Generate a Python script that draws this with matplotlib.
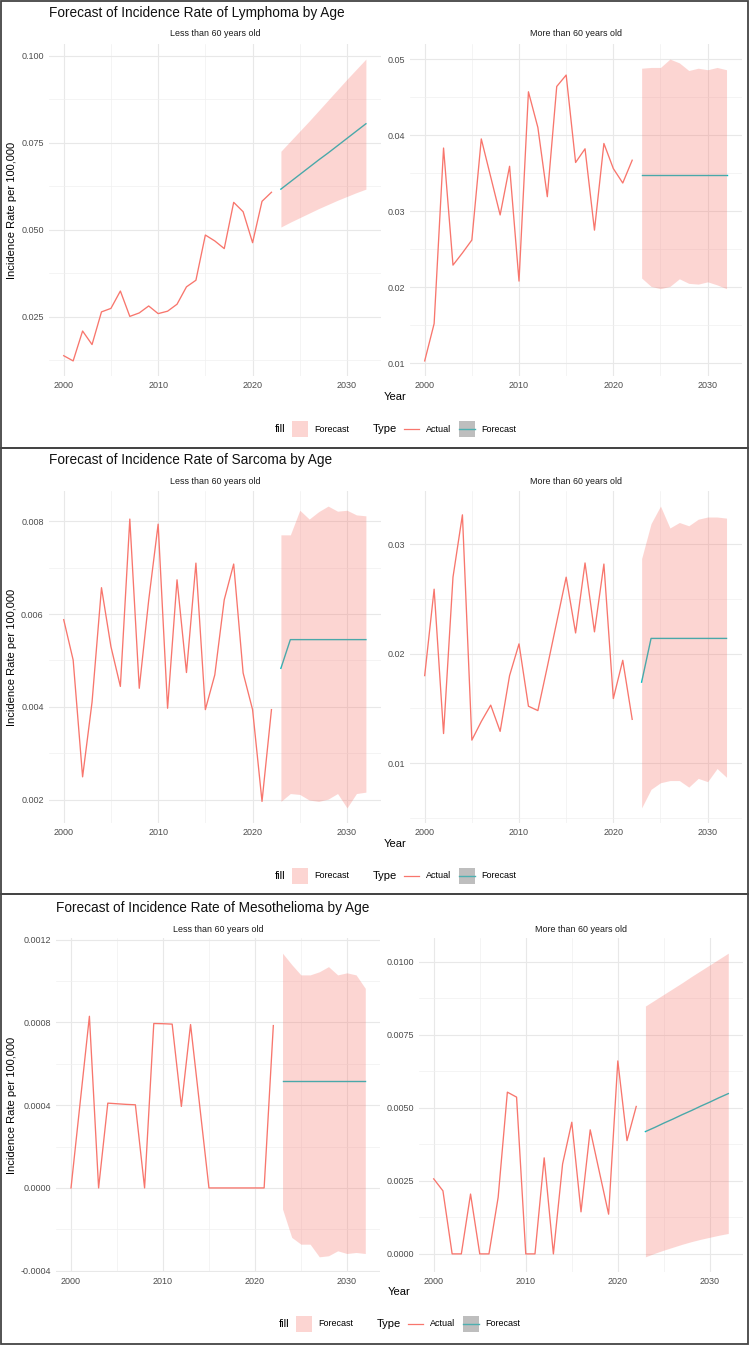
import matplotlib
matplotlib.use('Agg')
import matplotlib.pyplot as plt
from matplotlib.patches import Rectangle
from matplotlib.lines import Line2D
from matplotlib.ticker import MultipleLocator, AutoMinorLocator, FormatStrFormatter

plt.rcParams['font.family'] = ['Liberation Sans', 'DejaVu Sans']

years = list(range(2000, 2023))
years_fc = list(range(2023, 2033))

cancers = ['Lymphoma', 'Sarcoma', 'Mesothelioma']
groups = ['Less than 60 years old', 'More than 60 years old']

# Lymphoma
lym_young = [0.0138, 0.0123, 0.0209, 0.0170, 0.0264, 0.0274, 0.0324, 0.0251, 0.0261, 0.0281,
             0.0259, 0.0266, 0.0286, 0.0336, 0.0355, 0.0485, 0.0468, 0.0446, 0.0579, 0.0552,
             0.0463, 0.0582, 0.0608]
lym_young_fc = [0.0617, 0.0638, 0.0659, 0.0680, 0.0701, 0.0721, 0.0742, 0.0763, 0.0784, 0.0805]
lym_young_lo = [0.0508, 0.0522, 0.0535, 0.0548, 0.0561, 0.0573, 0.0585, 0.0596, 0.0607, 0.0617]
lym_young_hi = [0.0726, 0.0755, 0.0784, 0.0813, 0.0843, 0.0873, 0.0903, 0.0933, 0.0962, 0.0991]

lym_old = [0.0103, 0.0152, 0.0383, 0.0229, 0.0245, 0.0262, 0.0395, 0.0345, 0.0295, 0.0359,
           0.0208, 0.0457, 0.0410, 0.0319, 0.0464, 0.0479, 0.0364, 0.0382, 0.0275, 0.0389,
           0.0356, 0.0337, 0.0367]
lym_old_fc = [0.0348, 0.0348, 0.0348, 0.0348, 0.0348, 0.0348, 0.0348, 0.0348, 0.0348, 0.0348]
lym_old_lo = [0.0212, 0.0201, 0.0198, 0.0201, 0.0211, 0.0205, 0.0204, 0.0207, 0.0203, 0.0198]
lym_old_hi = [0.0488, 0.0489, 0.0489, 0.0500, 0.0495, 0.0485, 0.0488, 0.0486, 0.0489, 0.0486]

# Sarcoma
sar_young = [0.00588, 0.00501, 0.00249, 0.00410, 0.00657, 0.00530, 0.00444, 0.00805, 0.00440, 0.00630,
             0.00794, 0.00397, 0.00674, 0.00474, 0.00710, 0.00394, 0.00469, 0.00631, 0.00708, 0.00473,
             0.00394, 0.00196, 0.00394]
sar_young_fc = [0.00483, 0.00545, 0.00545, 0.00545, 0.00545, 0.00545, 0.00545, 0.00545, 0.00545, 0.00545]
sar_young_lo = [0.00196, 0.00213, 0.00211, 0.00199, 0.00196, 0.00201, 0.00213, 0.00182, 0.00213, 0.00216]
sar_young_hi = [0.00771, 0.00771, 0.00824, 0.00805, 0.00821, 0.00833, 0.00822, 0.00824, 0.00814, 0.00812]

sar_old = [0.0180, 0.0259, 0.0127, 0.0270, 0.0327, 0.0121, 0.0138, 0.0153, 0.0129, 0.0180,
           0.0209, 0.0152, 0.0148, 0.0188, 0.0229, 0.0270, 0.0219, 0.0283, 0.0220, 0.0282,
           0.0159, 0.0194, 0.0140]
sar_old_fc = [0.0174, 0.0214, 0.0214, 0.0214, 0.0214, 0.0214, 0.0214, 0.0214, 0.0214, 0.0214]
sar_old_lo = [0.0059, 0.0076, 0.0082, 0.0084, 0.0084, 0.0078, 0.0086, 0.0083, 0.0095, 0.0087]
sar_old_hi = [0.0287, 0.0319, 0.0335, 0.0315, 0.0320, 0.0317, 0.0323, 0.0325, 0.0325, 0.0324]

# Mesothelioma
mes_young = [0.0, 0.000415, 0.00083, 0.0, 0.00041, 0.000407, 0.000404, 0.000402, 0.0, 0.000795,
             0.000794, 0.000792, 0.000394, 0.00079, 0.000395, 0.0, 0.0, 0.0, 0.0, 0.0,
             0.0, 0.0, 0.000785]
mes_young_fc = [0.000517, 0.000517, 0.000517, 0.000517, 0.000517, 0.000517, 0.000517, 0.000517, 0.000517, 0.000517]
mes_young_lo = [-0.000102, -0.000239, -0.000272, -0.000272, -0.000333, -0.000328, -0.000304, -0.000317, -0.000312, -0.000317]
mes_young_hi = [0.001135, 0.00108, 0.00103, 0.00103, 0.001045, 0.00107, 0.00103, 0.00104, 0.00103, 0.000965]

mes_old = [0.00257, 0.00216, 0.0, 0.0, 0.00205, 0.0, 0.0, 0.00194, 0.00554, 0.00537,
           0.0, 0.0, 0.00329, 0.0, 0.00308, 0.00451, 0.00144, 0.00425, 0.0028, 0.00136,
           0.00661, 0.00388, 0.00505]
mes_old_fc = [0.00419, 0.00433, 0.00448, 0.00462, 0.00477, 0.00491, 0.00506, 0.00520, 0.00535, 0.00549]
mes_old_lo = [-0.00010, 0.00002, 0.00013, 0.00023, 0.00033, 0.00042, 0.00050, 0.00057, 0.00064, 0.00070]
mes_old_hi = [0.00849, 0.00869, 0.00889, 0.00909, 0.00929, 0.00950, 0.00970, 0.00990, 0.01010, 0.01030]

series = [
    [(lym_young, lym_young_fc, lym_young_lo, lym_young_hi), (lym_old, lym_old_fc, lym_old_lo, lym_old_hi)],
    [(sar_young, sar_young_fc, sar_young_lo, sar_young_hi), (sar_old, sar_old_fc, sar_old_lo, sar_old_hi)],
    [(mes_young, mes_young_fc, mes_young_lo, mes_young_hi), (mes_old, mes_old_fc, mes_old_lo, mes_old_hi)],
]

# tick spacing / label format per panel
tick_steps = [(0.025, 0.01), (0.002, 0.01), (0.0004, 0.0025)]
tick_fmts = [('%.3f', '%.2f'), ('%.3f', '%.2f'), ('%.4f', '%.4f')]

RED = '#F8766D'
TEAL = '#00BFC4'
W, H = 750, 1346

# pixel layout of the three stacked screenshots
tops = [0, 447, 895]
panel_x = [((48.6, 381), (409.6, 741.6)), ((48.6, 381), (409.6, 741.6)), ((56.3, 380), (419, 743))]
panel_y = [(44, 376), (44, 376), (43, 377)]
year_x = [395, 395, 399]
leg_dx = [0, 0, 4]


def rect(x0, y0, x1, y1):
    return [x0 / W, 1 - y1 / H, (x1 - x0) / W, (y1 - y0) / H]


def fx(px):
    return px / W


def fy(py):
    return 1 - py / H


fig = plt.figure(figsize=(7.5, 13.46), dpi=100)

for b in range(3):
    T = tops[b]
    for p in range(2):
        actual, fc, lo, hi = series[b][p]
        x0, x1 = panel_x[b][p]
        y0, y1 = panel_y[b]
        ax = fig.add_axes(rect(x0, T + y0, x1, T + y1))
        ax.plot(years_fc, fc, color=TEAL, lw=1.0, zorder=2)
        ax.fill_between(years_fc, lo, hi, color=RED, alpha=0.3, lw=0, zorder=3)
        ax.plot(years, actual, color=RED, lw=0.95, zorder=4)
        ax.margins(x=0.05, y=0.05)
        ax.xaxis.set_major_locator(MultipleLocator(10))
        ax.xaxis.set_minor_locator(AutoMinorLocator(2))
        ax.yaxis.set_major_locator(MultipleLocator(tick_steps[b][p]))
        ax.yaxis.set_minor_locator(AutoMinorLocator(2))
        ax.yaxis.set_major_formatter(FormatStrFormatter(tick_fmts[b][p]))
        ax.grid(which='major', color='#E8E8E8', lw=0.8)
        ax.grid(which='minor', color='#F0F0F0', lw=0.5)
        ax.set_axisbelow(True)
        for s in ax.spines.values():
            s.set_visible(False)
        ax.tick_params(which='both', length=0, labelsize=6.5, labelcolor='#4D4D4D', pad=3.5)
        fig.text(fx((x0 + x1) / 2), fy(T + 34), groups[p], fontsize=6.4, color='#1A1A1A',
                 ha='center', va='center')

    # title, axis titles
    fig.text(fx(panel_x[b][0][0]), fy(T + 13), 'Forecast of Incidence Rate of %s by Age' % cancers[b],
             fontsize=9.8, color='#111111', ha='left', va='center')
    fig.text(fx(12), fy(T + (panel_y[b][0] + panel_y[b][1]) / 2), 'Incidence Rate per 100,000',
             fontsize=8, rotation=90, ha='center', va='center')
    fig.text(fx(year_x[b]), fy(T + 397), 'Year', fontsize=8, ha='center', va='center')

    # legend row
    d = leg_dx[b]
    ly = T + 429
    fig.text(fx(275 + d), fy(ly), 'fill', fontsize=8, ha='left', va='center')
    fig.add_artist(Rectangle((fx(292 + d), fy(ly + 8)), 16 / W, 16 / H, transform=fig.transFigure,
                             facecolor=RED, alpha=0.3, lw=0))
    fig.text(fx(314 + d), fy(ly), 'Forecast', fontsize=6.5, ha='left', va='center')
    fig.text(fx(373 + d), fy(ly), 'Type', fontsize=8, ha='left', va='center')
    fig.add_artist(Line2D([fx(404 + d), fx(419 + d)], [fy(ly), fy(ly)], transform=fig.transFigure,
                          color=RED, lw=0.9))
    fig.text(fx(426 + d), fy(ly), 'Actual', fontsize=6.5, ha='left', va='center')
    fig.add_artist(Rectangle((fx(459 + d), fy(ly + 8)), 16 / W, 16 / H, transform=fig.transFigure,
                             facecolor='#BEBEBE', lw=0))
    fig.add_artist(Line2D([fx(459 + d), fx(475 + d)], [fy(ly), fy(ly)], transform=fig.transFigure,
                          color='#4DAFB0', lw=1.0))
    fig.text(fx(481 + d), fy(ly), 'Forecast', fontsize=6.5, ha='left', va='center')

# borders round each screenshot
edges = [(1, 1, 748, 448), (1, 448, 748, 894), (1, 894, 748, 1344)]
for x0, y0, x1, y1 in edges:
    fig.add_artist(Rectangle((fx(x0), fy(y1)), (x1 - x0) / W, (y1 - y0) / H, transform=fig.transFigure,
                             fill=False, edgecolor='#444444', lw=1.3))

fig.savefig('out.png', dpi=100)
